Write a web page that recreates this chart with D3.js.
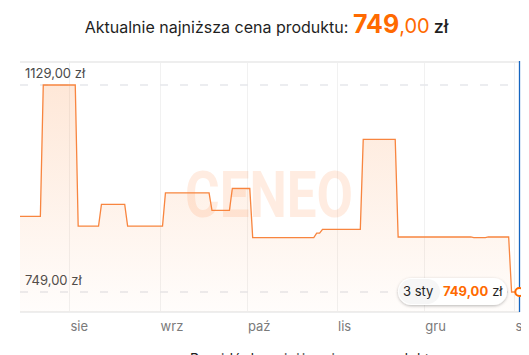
<!DOCTYPE html>
<html>
<head>
<meta charset="utf-8">
<script src="https://cdn.jsdelivr.net/npm/d3@7"></script>
<style>
  body { margin: 0; background: #fff; }
  svg { display: block; font-family: Inter, "Noto Sans", sans-serif; }
</style>
</head>
<body>
<div id="chart"></div>
<script>
// price history (changes)
const dates = [
  '2024-07-15', '2024-07-22', '2024-07-23', '2024-08-03', '2024-08-04', '2024-08-11',
  '2024-08-12', '2024-08-20', '2024-08-21', '2024-09-02', '2024-09-03', '2024-09-18',
  '2024-09-19', '2024-09-25', '2024-09-26', '2024-10-02', '2024-10-03', '2024-10-24',
  '2024-10-25', '2024-10-26', '2024-10-27', '2024-11-09', '2024-11-10', '2024-11-21',
  '2024-11-22', '2024-12-17', '2024-12-18', '2024-12-22', '2024-12-23', '2024-12-30',
  '2024-12-31', '2025-01-03'
];
const prices = [
  888, 888, 1129, 1129, 870, 870,
  910, 910, 870, 870, 931, 931,
  899, 899, 939, 939, 849, 849,
  857, 857, 864, 864, 1029, 1029,
  850, 850, 849, 849, 850, 850,
  749, 749
];
const monthTicks = ['2024-08-01', '2024-09-01', '2024-10-01', '2024-11-01', '2024-12-01', '2025-01-01'];
const monthLabels = ['sie', 'wrz', 'paź', 'lis', 'gru', 'sty'];
const priceTicks = [1129, 749];
const currentPrice = 749;
const currentLabel = '3 sty';

class PriceChart {
  constructor(_config) {
    this.config = {
      parentElement: _config.parentElement,
      containerWidth: 529,
      containerHeight: 355,
      plotLeft: 20,
      plotRight: 520,
      plotTop: 62,
      plotBottom: 312,
      orange: '#ff6a00',
      line: '#f8853f'
    };
    this.initVis();
  }

  initVis() {
    let vis = this;
    const c = vis.config;
    const parse = d3.timeParse('%Y-%m-%d');

    vis.data = dates.map((d, i) => ({ date: parse(d), price: prices[i] }));
    vis.ticks = monthTicks.map(parse);

    vis.svg = d3.select(c.parentElement).append('svg')
        .attr('width', c.containerWidth)
        .attr('height', c.containerHeight);

    const defs = vis.svg.append('defs');
    const grad = defs.append('linearGradient')
        .attr('id', 'area-gradient')
        .attr('gradientUnits', 'userSpaceOnUse')
        .attr('x1', 0).attr('x2', 0)
        .attr('y1', 85).attr('y2', c.plotBottom);
    grad.append('stop').attr('offset', 0).attr('stop-color', '#fb8a3c').attr('stop-opacity', 0.2);
    grad.append('stop').attr('offset', 1).attr('stop-color', '#fb8a3c').attr('stop-opacity', 0.02);

    const shadow = defs.append('filter').attr('id', 'shadow')
        .attr('x', '-20%').attr('y', '-40%').attr('width', '140%').attr('height', '180%');
    shadow.append('feDropShadow')
        .attr('dx', 0).attr('dy', 1).attr('stdDeviation', 1.6)
        .attr('flood-color', '#000').attr('flood-opacity', 0.28);

    defs.append('clipPath').attr('id', 'clip')
      .append('rect')
        .attr('x', 0).attr('y', 0)
        .attr('width', c.plotRight + 1).attr('height', c.containerHeight);

    vis.x = d3.scaleTime()
        .domain([parse('2024-07-15'), parse('2025-01-03')])
        .range([c.plotLeft, 520.3]);
    vis.y = d3.scaleLinear()
        .domain([749, 1129])
        .range([292, 85]);

    vis.renderVis();
  }

  renderVis() {
    let vis = this;
    const c = vis.config;
    const fmt = v => d3.format('.2f')(v).replace('.', ',');

    // title
    const title = vis.svg.append('text')
        .attr('x', 266.5).attr('y', 33)
        .attr('text-anchor', 'middle')
        .attr('fill', '#1f1f1f');
    title.append('tspan').attr('font-size', 16).text('Aktualnie najniższa cena produktu: ');
    title.append('tspan').attr('font-size', 25).attr('font-weight', 700)
        .attr('fill', c.orange).text(String(currentPrice));
    title.append('tspan').attr('font-size', 20).attr('fill', c.orange).text(',00');
    title.append('tspan').attr('font-size', 18).attr('font-weight', 500).attr('dx', 4).text('zł');

    const chart = vis.svg.append('g').attr('clip-path', 'url(#clip)');

    // vertical month grid
    chart.selectAll('.grid-x')
        .data(vis.ticks)
      .join('line')
        .attr('class', 'grid-x')
        .attr('x1', d => Math.round(vis.x(d)) + 0.5)
        .attr('x2', d => Math.round(vis.x(d)) + 0.5)
        .attr('y1', c.plotTop).attr('y2', c.plotBottom)
        .attr('stroke', '#f1f1f1');

    // top and bottom frame
    chart.selectAll('.frame')
        .data([c.plotTop, c.plotBottom])
      .join('line')
        .attr('class', 'frame')
        .attr('x1', c.plotLeft).attr('x2', c.plotRight)
        .attr('y1', d => d).attr('y2', d => d)
        .attr('stroke', '#eeeeee')
        .attr('stroke-width', 2);

    // dashed price lines
    chart.selectAll('.grid-y')
        .data(priceTicks)
      .join('line')
        .attr('class', 'grid-y')
        .attr('x1', c.plotLeft).attr('x2', 510)
        .attr('y1', d => vis.y(d)).attr('y2', d => vis.y(d))
        .attr('stroke', '#e6e7eb')
        .attr('stroke-width', 1.5)
        .attr('stroke-dasharray', '8,12');

    chart.selectAll('.y-label')
        .data(priceTicks)
      .join('text')
        .attr('class', 'y-label')
        .attr('x', 25)
        .attr('y', d => vis.y(d) - 7)
        .attr('font-size', 13)
        .attr('fill', '#4a4a4a')
        .text(d => `${fmt(d)} zł`);

    // area + watermark + line
    const area = d3.area()
        .x(d => vis.x(d.date))
        .y0(c.plotBottom)
        .y1(d => vis.y(d.price));
    chart.append('path')
        .datum(vis.data)
        .attr('d', area)
        .attr('fill', 'url(#area-gradient)');

    chart.append('text')
        .attr('x', 185).attr('y', 217)
        .attr('font-family', 'Roboto, sans-serif')
        .attr('font-weight', 700)
        .attr('font-size', 64)
        .attr('textLength', 168)
        .attr('lengthAdjust', 'spacingAndGlyphs')
        .attr('fill', '#fc8a45')
        .attr('fill-opacity', 0.16)
        .text('CENEO');

    const line = d3.line()
        .x(d => vis.x(d.date))
        .y(d => vis.y(d.price));
    chart.append('path')
        .datum(vis.data)
        .attr('d', line)
        .attr('fill', 'none')
        .attr('stroke', c.line)
        .attr('stroke-width', 1.3);

    // x labels
    chart.selectAll('.x-label')
        .data(vis.ticks)
      .join('text')
        .attr('class', 'x-label')
        .attr('x', d => vis.x(d) + 1)
        .attr('y', 331)
        .attr('font-size', 13)
        .attr('fill', '#7a7a7a')
        .text((d, i) => monthLabels[i]);

    // tooltip
    const last = vis.data[vis.data.length - 1];
    const tip = chart.append('g').attr('transform', 'translate(398,278)');
    tip.append('rect')
        .attr('width', 109).attr('height', 27)
        .attr('rx', 13.5)
        .attr('fill', '#fff')
        .attr('filter', 'url(#shadow)');
    tip.append('rect')
        .attr('x', 1).attr('y', 1)
        .attr('width', 41).attr('height', 25)
        .attr('rx', 12.5)
        .attr('fill', '#f6f6f6');
    const tipText = tip.append('text')
        .attr('x', 5).attr('y', 18)
        .attr('font-size', 13)
        .attr('fill', '#1f1f1f');
    tipText.append('tspan').text(currentLabel);
    tipText.append('tspan').attr('x', 45).attr('font-weight', 700)
        .attr('fill', c.orange).text(fmt(last.price));
    tipText.append('tspan').attr('dx', 4).text('zł');

    // hover line + marker
    chart.append('line')
        .attr('x1', 519.5).attr('x2', 519.5)
        .attr('y1', c.plotTop - 1).attr('y2', c.plotBottom)
        .attr('stroke', '#1565c0')
        .attr('stroke-width', 1.3);
    chart.append('circle')
        .attr('cx', vis.x(last.date) - 1)
        .attr('cy', vis.y(last.price))
        .attr('r', 4)
        .attr('fill', '#fff')
        .attr('stroke', c.orange)
        .attr('stroke-width', 2);

    // cut-off link text at the bottom
    vis.svg.append('text')
        .attr('x', 190).attr('y', 364)
        .attr('font-size', 14)
        .attr('textLength', 248)
        .attr('fill', '#1f1f1f')
        .text('Przejdź do najniższej ceny produktu');
  }
}

new PriceChart({ parentElement: '#chart' });
</script>
</body>
</html>
